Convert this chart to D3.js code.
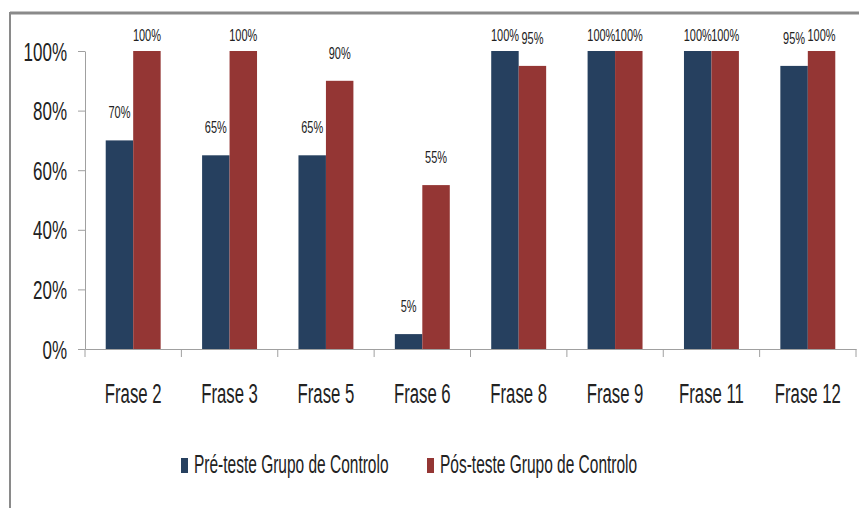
<!DOCTYPE html>
<html>
<head>
<meta charset="utf-8">
<script src="https://cdn.jsdelivr.net/npm/d3@7"></script>
<style>
  html, body { margin: 0; padding: 0; background: #fff; }
  svg { display: block; }
  text { font-family: "Liberation Sans", Arial, sans-serif; fill: #222; }
</style>
</head>
<body>
<svg id="chart" width="859" height="508"></svg>
<script>
const categories = ["Frase 2", "Frase 3", "Frase 5", "Frase 6", "Frase 8", "Frase 9", "Frase 11", "Frase 12"];
const seriesNames = ["Pré-teste Grupo de Controlo", "Pós-teste Grupo de Controlo"];
const preValues = [70, 65, 65, 5, 100, 100, 100, 95];
const postValues = [100, 100, 90, 55, 95, 100, 100, 100];
const yTicks = [0, 20, 40, 60, 80, 100];
const colors = ["#26405f", "#943634"];

(function () {
const svg = d3.select("#chart");
const SX = 0.68;

// frame
svg.append("line").attr("x1", 10).attr("x2", 859).attr("y1", 13).attr("y2", 13)
  .attr("stroke", "#8a8a8a").attr("stroke-width", 3);
svg.append("line").attr("x1", 10).attr("x2", 10).attr("y1", 12).attr("y2", 508)
  .attr("stroke", "#8a8a8a").attr("stroke-width", 2);

const mLeft = 85, mRight = 856, mTop = 51, mBottom = 349;
const x0 = d3.scaleBand().domain(categories).range([mLeft, mRight]).paddingInner(0).paddingOuter(0);
const x1 = d3.scaleBand().domain([0, 1]).range([x0.bandwidth() * 0.215, x0.bandwidth() * 0.785]);
const y = d3.scaleLinear().domain([0, 100]).range([mBottom, mTop]);

// y axis
const yAxis = svg.append("g").attr("transform", `translate(${mLeft},0)`)
  .call(d3.axisLeft(y).tickValues(yTicks).tickSize(7).tickSizeOuter(0).tickFormat(d => d + "%"));
yAxis.select(".domain").attr("stroke", "#a0a0a0");
yAxis.selectAll(".tick line").attr("stroke", "#a0a0a0");
yAxis.selectAll(".tick text")
  .attr("x", -18 / SX).attr("dy", "0.36em")
  .attr("transform", `scale(${SX},1)`)
  .style("font-size", "25px").style("fill", "#222");

// x axis (labels)
const xAxis = svg.append("g").attr("transform", `translate(0,${mBottom})`)
  .call(d3.axisBottom(x0).tickSize(0).tickSizeOuter(0));
xAxis.select(".domain").attr("stroke", "#a0a0a0");
xAxis.selectAll(".tick text")
  .attr("y", 0).attr("dy", 0)
  .attr("transform", `translate(0,54) scale(0.62,1)`)
  .style("font-size", "27px").style("fill", "#222");

// boundary ticks
const bounds = categories.map(c => x0(c)).concat([x0(categories[categories.length - 1]) + x0.bandwidth()]);
svg.append("g").selectAll("line").data(bounds).join("line")
  .attr("x1", d => d).attr("x2", d => d).attr("y1", mBottom).attr("y2", mBottom + 8)
  .attr("stroke", "#a0a0a0");

// bars
const data = categories.map((c, i) => ({ cat: c, vals: [preValues[i], postValues[i]] }));
const groups = svg.append("g").selectAll("g").data(data).join("g")
  .attr("transform", d => `translate(${x0(d.cat)},0)`);
groups.selectAll("rect").data(d => d.vals.map((v, k) => ({ v, k }))).join("rect")
  .attr("x", d => x1(d.k)).attr("width", x1.bandwidth())
  .attr("y", d => y(d.v)).attr("height", d => y(0) - y(d.v))
  .attr("fill", d => colors[d.k]);
groups.selectAll("text.val").data(d => d.vals.map((v, k) => ({ v, k }))).join("text")
  .attr("class", "val")
  .attr("text-anchor", "middle")
  .attr("transform", d => `translate(${x1(d.k) + x1.bandwidth() / 2},${Math.max(y(d.v) - 22, 41)}) scale(${SX * 0.95},1)`)
  .style("font-size", "17px")
  .text(d => d.v + "%");

// legend
const legendX = [181, 427];
const lg = svg.append("g").selectAll("g").data(seriesNames).join("g")
  .attr("transform", (d, i) => `translate(${legendX[i]},0)`);
lg.append("rect").attr("x", 0).attr("y", 458).attr("width", 7).attr("height", 15)
  .attr("fill", (d, i) => colors[i]);
lg.append("text").attr("transform", `translate(13,473) scale(0.62,1)`)
  .style("font-size", "25px").text(d => d);
})();
</script>
</body>
</html>
